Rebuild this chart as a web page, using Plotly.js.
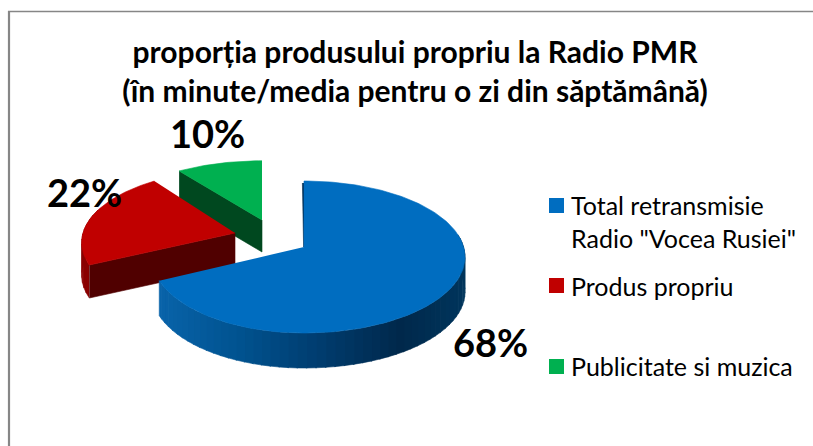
<!DOCTYPE html>
<html><head><meta charset="utf-8">
<script src="https://cdn.plot.ly/plotly-3.0.1.min.js"></script>
<style>html,body{margin:0;padding:0;background:#fff}#c{width:813px;height:446px}</style>
</head><body><div id="c"></div>
<script>
const titleLines = ["proporția produsului propriu la Radio PMR", "(în minute/media pentru o zi din săptămână)"];
const categories = ['Total retransmisie<br>Radio "Vocea Rusiei"', 'Produs propriu', 'Publicitate si muzica'];
const values = [68, 22, 10];
const topColors = ['#006DC0', '#C00000', '#00B050'];
const cutColors = ['#002B50', '#500000', '#00481F'];

// drawing geometry (pixel-scale axes; 3-D projection of a tilted disc)
const slices = [
  {ax:304, ay:247, R:159.6, Rl:151, ry:74.7, depth:35},
  {ax:235, ay:233, R:152, Rl:152, ry:71, depth:33},
  {ax:262, ay:220, R:156, Rl:156, ry:67, depth:32}
];
const persp = 0.1316;
const labelPos = [[490,342],[84,192],[207,133]];

function proj(s, deg){
  const a = deg*Math.PI/180, u = Math.sin(a), v = -Math.cos(a), w = 1 - persp*v;
  return [s.ax + (u<0?s.Rl:s.R)*u/w, s.ay + s.ry*v/w];
}
function poly(pts, color){
  return {type:'scatter', mode:'lines', x:pts.map(p=>p[0]), y:pts.map(p=>p[1]),
    fill:'toself', fillcolor:color, line:{color:color, width:0.6}, hoverinfo:'skip', showlegend:false};
}
function arc(s, a0, a1, dy){
  const out=[]; const n=Math.max(2,Math.ceil(Math.abs(a1-a0)/1.5));
  for(let i=0;i<=n;i++){const p=proj(s,a0+(a1-a0)*i/n); out.push([p[0],p[1]+(dy||0)]);}
  return out;
}
function hex(c){return [1,3,5].map(i=>parseInt(c.substr(i,2),16));}
function ramp(stops,t){
  for(let i=1;i<stops.length;i++){ if(t<=stops[i][0]){
    const f=(t-stops[i-1][0])/(stops[i][0]-stops[i-1][0]);
    const a=hex(stops[i-1][1]),b=hex(stops[i][1]);
    return 'rgb('+a.map((x,k)=>Math.round(x+(b[k]-x)*f)).join(',')+')';
  }}
  return stops[stops.length-1][1];
}
function wall(s,a0,a1,stops,step){
  const out=[];
  for(let a=a0;a<a1;a+=step){
    const b=Math.min(a+step+0.4,a1);
    const top=arc(s,a,b,0), bot=arc(s,a,b,s.depth).reverse();
    const m=proj(s,(a+b)/2);
    const t=Math.min(1,Math.max(0,(m[0]-(s.ax-s.R))/(2*s.R)));
    out.push(poly(top.concat(bot),ramp(stops,t)));
  }
  return out;
}

const ends=[]; let acc=0; values.forEach(v=>{ends.push([acc*3.6,(acc+v)*3.6]);acc+=v;});
const traces=[];

// green (rear) slice
{const s=slices[2],[a0,a1]=ends[2];
 const p=proj(s,a0), ap=[s.ax,s.ay];
 traces.push(poly([p,ap,[ap[0],ap[1]+s.depth],[p[0],p[1]+s.depth]],cutColors[2]));
 traces.push(poly([ap].concat(arc(s,a0,a1,0)),topColors[2]));}
// red slice
{const s=slices[1],[a0,a1]=ends[1];
 traces.push(...wall(s,a0,a0+45,[[0,'#8A0000'],[1,'#A80000']],4));
 const p=proj(s,a0), ap=[s.ax,s.ay];
 traces.push(poly([p,ap,[ap[0],ap[1]+s.depth],[p[0],p[1]+s.depth]],cutColors[1]));
 traces.push(poly([ap].concat(arc(s,a0,a1,0)),topColors[1]));}
// blue slice
{const s=slices[0],[a0,a1]=ends[0];
 traces.push(poly([[s.ax-1.6,s.ay-64],[s.ax-0.4,s.ay],[s.ax+1,s.ay],[s.ax,s.ay-64]],cutColors[0]));
 traces.push(...wall(s,80,a1,[[0,'#0A66AE'],[0.3,'#00528F'],[0.55,'#003C6E'],[0.8,'#00284B'],[1,'#00355C']],3));
 traces.push(poly([[s.ax,s.ay]].concat(arc(s,a0,a1,0)),topColors[0]));}
// legend swatches
traces.push({type:'scatter',mode:'markers',x:categories.map(()=>556.5),y:[205.5,285.5,366.5],
  marker:{symbol:'square',size:15,color:topColors,line:{width:0}},hoverinfo:'skip',showlegend:false});

const FONT='Lato, Carlito, sans-serif';
const annotations=[];
values.forEach((v,i)=>annotations.push({x:labelPos[i][0],y:labelPos[i][1],xref:'x',yref:'y',text:v+'%',showarrow:false,
  xanchor:'center',yanchor:'middle',font:{family:FONT,size:38,color:'#000',weight:700}}));
const legendTextY=[221.5,286,366];
categories.forEach((c,i)=>annotations.push({x:569,y:legendTextY[i],xref:'x',yref:'y',text:c,showarrow:false,align:'left',
  xanchor:'left',yanchor:'middle',font:{family:FONT,size:25,color:'#000'}}));

const layout={width:813,height:446,margin:{l:0,r:0,t:0,b:0},paper_bgcolor:'#fff',plot_bgcolor:'#fff',showlegend:false,
  xaxis:{range:[0,813],visible:false,fixedrange:true},
  yaxis:{range:[446,0],visible:false,fixedrange:true},
  title:{text:titleLines[0]+'<br>'+titleLines[1],x:415/813,xanchor:'center',y:1-63/446,yanchor:'top',font:{family:FONT,size:30,color:'#000',weight:700}},
  shapes:[
    {type:'line',xref:'x',yref:'y',x0:8,x1:813,y0:11.5,y1:11.5,line:{color:'#868686',width:1.5}},
    {type:'line',xref:'x',yref:'y',x0:9,x1:9,y0:11,y1:446,line:{color:'#868686',width:2.2}}
  ],
  annotations};
Plotly.newPlot('c',traces,layout,{displayModeBar:false,staticPlot:true});
</script></body></html>
